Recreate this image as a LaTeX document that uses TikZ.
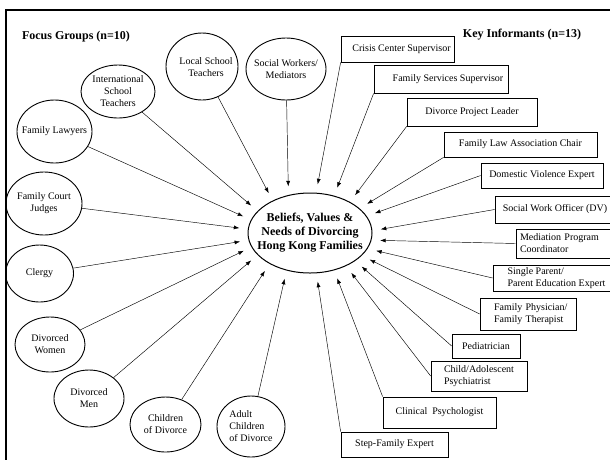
\documentclass[tikz,border=0pt]{standalone}
\usepackage{fontspec}
\setmainfont{Liberation Serif}
\usetikzlibrary{shapes.geometric,arrows.meta}

\tikzset{
  hub/.style={ellipse, draw, line width=1pt, minimum width=124pt, minimum height=80pt, outer sep=9pt},
  grp/.style={ellipse, draw, line width=0.9pt, inner sep=0pt},
  grptxt/.style={font=\fontsize{10}{12}\selectfont, align=center, inner sep=0pt},
  inf/.style={rectangle, draw, line width=0.7pt, inner xsep=2pt, inner ysep=1pt, font=\fontsize{10}{12}\selectfont},
  head/.style={font=\fontsize{12}{14}\selectfont\bfseries},
  conn/.style={-{Latex[length=5.5pt,width=4pt]}, line width=0.45pt}
}

\begin{document}
\begin{tikzpicture}[x=1pt, y=-1pt]
    \clip (0,0) rectangle (610,459);
    \draw[line width=2pt] (5.5,470) -- (5.5,9.5) -- (620,9.5);

    % centre
    \node[hub, label={[font=\fontsize{12}{14}\selectfont\bfseries, align=center]center:{Beliefs, Values \&\\Needs of Divorcing\\Hong Kong Families}}] (hub) at (310,233) {};

    % headings
    \node[head] (fgh) at (76,37) {Focus Groups (n=10)};
    \node[head] (kih) at (522,35) {Key Informants (n=13)};

    % focus groups
    \node[grp, minimum width=74pt, minimum height=53pt, label={[grptxt]center:{International\\School\\Teachers}}] (ist) at (118,91.5) {};
    \node[grp, minimum width=72pt, minimum height=67pt, label={[grptxt, xshift=4pt, yshift=-1pt]center:{Local School\\Teachers}}] (lst) at (202,66.5) {};
    \node[grp, minimum width=80pt, minimum height=62pt, label={[grptxt]center:{Social Workers/\\Mediators}}] (swm) at (286,69) {};
    \node[grp, minimum width=75pt, minimum height=63pt, label={[grptxt]center:{Family Lawyers}}] (fl) at (54.5,131.5) {};
    \node[grp, minimum width=76pt, minimum height=63pt, label={[grptxt]center:{Family Court\\Judges}}] (fcj) at (44,203.5) {};
    \node[grp, minimum width=68pt, minimum height=57pt, label={[grptxt]center:{Clergy}}] (cl) at (39.5,273.5) {};
    \node[grp, minimum width=70pt, minimum height=55pt, label={[grptxt]center:{Divorced\\Women}}] (dw) at (50,344.5) {};
    \node[grp, minimum width=70pt, minimum height=57pt, label={[grptxt]center:{Divorced\\Men}}] (dm) at (89,398.5) {};
    \node[grp, minimum width=71pt, minimum height=55pt, label={[grptxt]center:{Children\\of Divorce}}] (cd) at (165.5,424.5) {};
    \node[grp, minimum width=68pt, minimum height=61pt, label={[grptxt, align=left]center:{Adult\\Children\\of Divorce}}] (acd) at (251,426.5) {};

    % key informants
    \node[inf, minimum width=113pt, minimum height=26pt] (ccs) at (397.5,49) {\hspace{8pt}Crisis Center Supervisor};
    \node[inf, minimum width=134pt, minimum height=28pt] (fss) at (441,79) {\hspace{14pt}Family Services Supervisor};
    \node[inf, minimum width=130pt, minimum height=28pt] (dpl) at (472,112) {Divorce Project Leader};
    \node[inf, minimum width=153pt, minimum height=25pt] (fla) at (520.5,144.5) {Family Law Association Chair};
    \node[inf, minimum width=122pt, minimum height=25pt] (dve) at (542,175.5) {Domestic Violence Expert};
    \node[inf, minimum width=120pt, minimum height=27pt] (swo) at (555,209.5) {Social Work Officer (DV)};
    \node[inf, minimum width=104pt, minimum height=29pt, align=left, text width=96pt] (mpc) at (568,243.5) {Mediation Program\\Coordinator};
    \node[inf, minimum width=127pt, minimum height=26pt, align=left, inner ysep=0pt] (spe) at (556.5,278) {Single Parent/\\Parent Education Expert};
    \node[inf, minimum width=96pt, minimum height=32pt, align=left, text width=80pt] (fpt) at (528,314) {\hspace{6pt}Family Physician/\\\hspace{6pt}Family Therapist};
    \node[inf, minimum width=68pt, minimum height=24pt] (ped) at (486,346) {Pediatrician};
    \node[inf, minimum width=96pt, minimum height=30pt, align=left, text width=86pt] (cap) at (479,376) {\hspace{8pt}Child/Adolescent\\\hspace{8pt}Psychiatrist};
    \node[inf, minimum width=113pt, minimum height=31pt] (clp) at (439.5,412.5) {Clinical\ \ Psychologist};
    \node[inf, minimum width=107pt, minimum height=25pt] (sfe) at (394.5,444.5) {Step-Family Expert};

    % arrows from focus groups
    \draw[conn] (lst) -- (hub.136);
    \draw[conn] (swm) -- (hub.115);
    \draw[conn] (ist) -- (hub.155);
    \draw[conn] (fl) -- (hub.166);
    \draw[conn] (fcj) -- (hub.176);
    \draw[conn] (cl) -- (hub.187);
    \draw[conn] (dw) -- (hub.195);
    \draw[conn] (dm) -- (hub.205);
    \draw[conn] (cd) -- (hub.220);
    \draw[conn] (acd) -- (hub.241);

    % arrows from key informants
    \draw[conn] (ccs.south west) -- (hub.81);
    \draw[conn] (fss.south west) -- (hub.59);
    \draw[conn] (dpl.south west) -- (hub.40);
    \draw[conn] (fla.south west) -- (hub.27);
    \draw[conn] (dve.west) -- (hub.17);
    \draw[conn] (swo.west) -- (hub.3);
    \draw[conn] (mpc.west) -- (hub.354);
    \draw[conn] (spe.west) -- (hub.345);
    \draw[conn] (fpt.west) -- (hub.336);
    \draw[conn] (ped.west) -- (hub.327);
    \draw[conn] (cap.west) -- (hub.316);
    \draw[conn] (clp.north west) -- (hub.301);
    \draw[conn] (sfe.north west) -- (hub.279);
\end{tikzpicture}
\end{document}
